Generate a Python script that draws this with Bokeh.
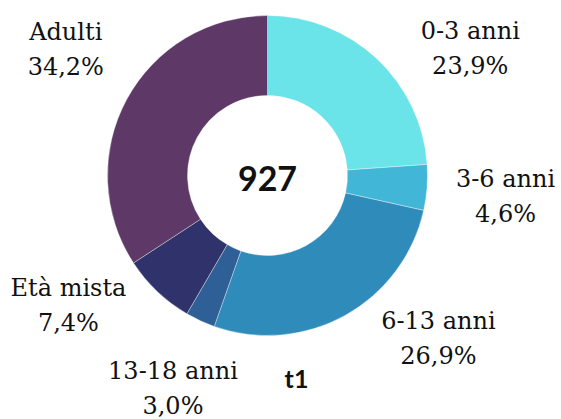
import math
from bokeh.plotting import figure
from bokeh.models import Range1d, ColumnDataSource
from bokeh.core.properties import value
from bokeh.embed import file_html
from bokeh.resources import INLINE

categories = ["0-3 anni", "3-6 anni", "6-13 anni", "13-18 anni", "Età mista", "Adulti"]
shares = [23.9, 4.6, 26.9, 3.0, 7.4, 34.2]
colors = ["#6ae4e8", "#42b6d6", "#2f8cba", "#2e5f96", "#30336b", "#5e3866"]
total = 927
series_name = "t1"

# layout (label angle nudges in degrees clockwise, label distances in px)
label_nudge = [15.0, 0.7, -17.4, -0.9, 13.2, 3.6]
label_dist = [239, 239, 236, 233, 238, 238]
R_OUT, R_IN = 160, 80

p = figure(width=561, height=419, output_backend="svg", toolbar_location=None,
           x_range=Range1d(-267, 294), y_range=Range1d(-244, 175), min_border=0)
p.axis.visible = False
p.grid.visible = False
p.outline_line_color = None
p.background_fill_color = "white"

tot = sum(shares)
starts, ends, lx, ly, names, pcts = [], [], [], [], [], []
cum = 0.0
for c, s, n, r in zip(categories, shares, label_nudge, label_dist):
    a0 = math.pi / 2 - 2 * math.pi * cum / tot
    cum += s
    a1 = math.pi / 2 - 2 * math.pi * cum / tot
    starts.append(a0)
    ends.append(a1)
    mid = (a0 + a1) / 2 - math.radians(n)
    lx.append(r * math.cos(mid))
    ly.append(r * math.sin(mid))
    names.append(c)
    pcts.append(f"{s:.1f}%".replace(".", ","))

src = ColumnDataSource(dict(start=starts, end=ends, color=colors, lx=lx,
                            ly_top=[y + 17.5 for y in ly], ly_bot=[y - 17.5 for y in ly],
                            name=names, pct=pcts))
p.annular_wedge(x=0, y=0, inner_radius=R_IN, outer_radius=R_OUT,
                start_angle="start", end_angle="end", direction="clock",
                fill_color="color", line_color="white", line_width=0.6, line_alpha=0.6,
                source=src)

font = value("DejaVu Serif")
p.text(x="lx", y="ly_top", text="name", source=src, text_font=font,
       text_font_size="24px", text_align="center", text_baseline="middle", text_color="#111111")
p.text(x="lx", y="ly_bot", text="pct", source=src, text_font=font,
       text_font_size="24px", text_align="center", text_baseline="middle", text_color="#111111")

p.text(x=[0], y=[-3], text=[str(total)], text_font=value("Lato"), text_font_style="bold",
       text_font_size="34px", text_align="center", text_baseline="middle", text_color="#111111")
p.text(x=[29], y=[-202], text=[series_name], text_font=value("Lato"), text_font_style="bold",
       text_font_size="25px", text_align="center", text_baseline="middle", text_color="#111111")

open("out.html", "w").write(file_html(p, INLINE))
